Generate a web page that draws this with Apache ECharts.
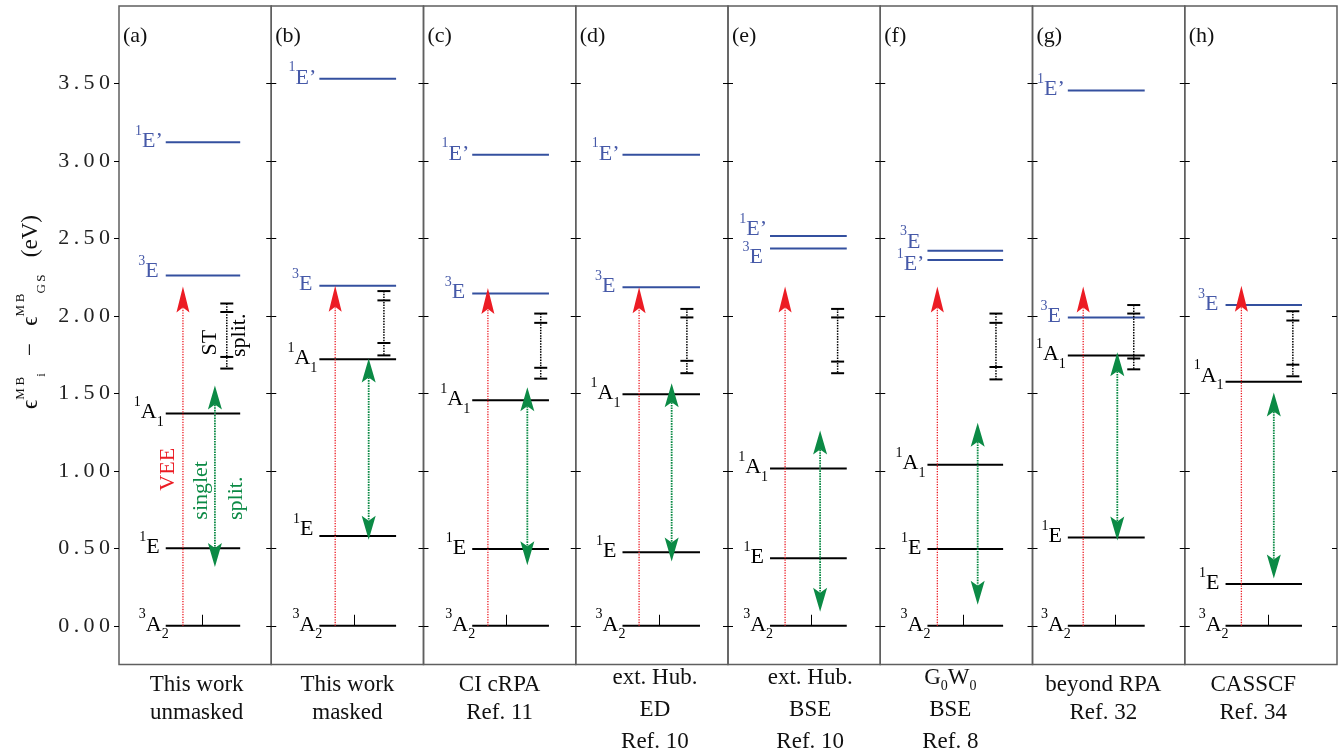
<!DOCTYPE html>
<html>
<head>
<meta charset="utf-8">
<script src="https://cdn.jsdelivr.net/npm/echarts@6/dist/echarts.min.js"></script>
<style>
html,body{margin:0;padding:0;background:#fff;}
#chart{width:1344px;height:748px;}
</style>
</head>
<body>
<div id="chart"></div>
<script>
// ---------------- data ----------------
const panelTags = ['(a)', '(b)', '(c)', '(d)', '(e)', '(f)', '(g)', '(h)'];
const methods = [
  ['This work', 'unmasked'],
  ['This work', 'masked'],
  ['CI cRPA', 'Ref. 11'],
  ['ext. Hub.', 'ED', 'Ref. 10'],
  ['ext. Hub.', 'BSE', 'Ref. 10'],
  ['G₀W₀', 'BSE', 'Ref. 8'],
  ['beyond RPA', 'Ref. 32'],
  ['CASSCF', 'Ref. 34']
];
const yTickValues = [0, 0.5, 1, 1.5, 2, 2.5, 3, 3.5];

// energy levels (eV) per panel a..h
const e3A2 = [0, 0, 0, 0, 0, 0, 0, 0];
const e1E  = [0.50, 0.58, 0.495, 0.475, 0.435, 0.495, 0.57, 0.27];
const e1A1 = [1.37, 1.72, 1.455, 1.495, 1.015, 1.04, 1.745, 1.575];
const e3E  = [2.26, 2.195, 2.145, 2.185, 2.435, 2.42, 1.99, 2.07];
const e1Ep = [3.12, 3.53, 3.04, 3.04, 2.515, 2.36, 3.455, null];

// vertical excitation energy arrow (tip)
const veeTop = [2.19, 2.195, 2.18, 2.185, 2.19, 2.19, 2.19, 2.195];
// singlet splitting double arrow (tips)
const singletTop    = [1.55, 1.725, 1.54, 1.565, 1.26, 1.31, 1.765, 1.505];
const singletBottom = [0.38, 0.555, 0.39, 0.415, 0.09, 0.135, 0.55, 0.305];
// singlet-triplet splitting error bars (cap positions)
const stTripletHi = [2.08, 2.16, 2.015, 2.045, 2.045, 2.015, 2.07, 2.03];
const stTripletLo = [2.025, 2.10, 1.955, 1.99, 1.99, 1.955, 2.015, 1.97];
const stSingletHi = [1.735, 1.825, 1.665, 1.71, 1.705, 1.67, 1.725, 1.685];
const stSingletLo = [1.66, 1.745, 1.595, 1.63, 1.63, 1.59, 1.655, 1.61];

// ---------------- layout / style ----------------
const FONT = '"Liberation Serif","Times New Roman",serif';
const P_LEFT = 119, P_W = 152.25, P_TOP = 6, P_H = 658.5;
const Y_MIN = -0.25, Y_MAX = 4.0;
const BLACK = '#000', BLUE_LINE = '#34509f', BLUE_TEXT = '#4659a8';
const RED = '#ec1c24', GREEN = '#0b8a45', BORDER = '#5f5f5f';

const levelSpan = [[0.307,0.796],[0.316,0.82],[0.32,0.824],[0.307,0.816],[0.276,0.78],[0.31,0.807],[0.232,0.737],[0.268,0.77]];
const veeX     = [0.42, 0.42, 0.423, 0.416, 0.375, 0.375, 0.333, 0.372];
const singletX = [0.63, 0.64, 0.682, 0.63, 0.605, 0.64, 0.557, 0.585];
const stX      = [0.708, 0.74, 0.77, 0.73, 0.72, 0.76, 0.665, 0.71];
const labelX   = [0.51, 0.5, 0.5, 0.52, 0.54, 0.46, 0.465, 0.45];

const levelNames = [['3','A','2'], ['1','E',''], ['1','A','1'], ['3','E',''], ['1','E’','']];
const levelSets = [e3A2, e1E, e1A1, e3E, e1Ep];
const levelBlue = [false, false, false, true, true];
const dxByLevel = [3, -6, -2, -7, -3];
const dyOverride = {'0-3': -4, '1-1': -7, '4-3': 9, '4-4': -7, '5-3': -9, '5-4': 4, '7-2': -6};

// panel (a) annotations: [text, color, x, y]
const notes = [
  ['VEE', RED, 0.322, 1.01],
  ['singlet', GREEN, 0.542, 0.874],
  ['split.', GREEN, 0.772, 0.823],
  ['ST', BLACK, 0.596, 1.827],
  ['split.', BLACK, 0.788, 1.875]
];

function levelRich(col) {
  return {
    m:   {fontFamily: FONT, fontSize: 22, lineHeight: 34, fill: col},
    sup: {fontFamily: FONT, fontSize: 14, lineHeight: 22, verticalAlign: 'top', fill: col},
    sub: {fontFamily: FONT, fontSize: 14, lineHeight: 6, verticalAlign: 'bottom', fill: col}
  };
}
function levelText(k) {
  const n = levelNames[k];
  let s = '{sup|' + n[0] + '}{m|' + n[1] + '}';
  if (n[2]) s += '{sub|' + n[2] + '}';
  return s;
}
function head(x, y, dir, len, hw, notch, color) {
  const s = dir;
  return {type: 'polygon', shape: {points: [[x, y], [x + hw, y + s * len], [x, y + s * (len - notch)], [x - hw, y + s * len]]},
          style: {fill: color}};
}

function makeRender(i, elems) {
  return function (params, api) {
    const e = elems[params.dataIndex];
    const P = (x, y) => api.coord([x, y]);
    const ch = [];
    if (e.kind === 'level') {
      const a = P(levelSpan[i][0], e.v), b = P(levelSpan[i][1], e.v);
      const col = e.blue ? BLUE_TEXT : BLACK;
      ch.push({type: 'line', shape: {x1: a[0], y1: a[1], x2: b[0], y2: b[1]},
               style: {stroke: e.blue ? BLUE_LINE : BLACK, lineWidth: 2}});
      const key = i + '-' + e.k;
      const dy = (key in dyOverride) ? dyOverride[key] : -1;
      ch.push({type: 'text', x: a[0] + dxByLevel[e.k], y: a[1] + dy,
               style: {text: levelText(e.k), rich: levelRich(col), align: 'right', verticalAlign: 'middle',
                       fill: col, fontFamily: FONT, fontSize: 22}});
    } else if (e.kind === 'vee') {
      const base = P(veeX[i], 0), tip = P(veeX[i], e.v);
      const len = 26, notch = 5;
      ch.push({type: 'line', shape: {x1: base[0], y1: base[1], x2: tip[0], y2: tip[1] + len - notch},
               style: {stroke: RED, lineWidth: 1.3, lineDash: [1.3, 1.3]}});
      ch.push(head(tip[0], tip[1], 1, len, 6.5, notch, RED));
    } else if (e.kind === 'dbl') {
      const t = P(singletX[i], e.top), b = P(singletX[i], e.bottom);
      const len = 24, notch = 5;
      ch.push({type: 'line', shape: {x1: t[0], y1: t[1] + len - notch, x2: b[0], y2: b[1] - len + notch},
               style: {stroke: GREEN, lineWidth: 1.8, lineDash: [1.6, 1]}});
      ch.push(head(t[0], t[1], 1, len, 7, notch, GREEN));
      ch.push(head(b[0], b[1], -1, len, 7, notch, GREEN));
    } else if (e.kind === 'st') {
      const pts = e.caps.map(v => P(stX[i], v));
      ch.push({type: 'line', shape: {x1: pts[0][0], y1: pts[0][1], x2: pts[3][0], y2: pts[3][1]},
               style: {stroke: BLACK, lineWidth: 1.5, lineDash: [1.5, 1.2]}});
      pts.forEach(p => ch.push({type: 'line', shape: {x1: p[0] - 6.5, y1: p[1], x2: p[0] + 6.5, y2: p[1]},
                                style: {stroke: BLACK, lineWidth: 2}}));
    } else if (e.kind === 'note') {
      const p = P(e.x, e.v);
      ch.push({type: 'text', x: p[0], y: p[1], rotation: Math.PI / 2,
               style: {text: e.text, fill: e.color, fontFamily: FONT, fontSize: 22, align: 'center', verticalAlign: 'middle'}});
    }
    return {type: 'group', children: ch};
  };
}

function methodLabel(i) {
  const st = methods[i].length === 3 ? 'c3' : 'c2';
  return methods[i].map(line => line.split(/(₀)/).filter(Boolean)
    .map(t => t === '₀' ? '{s' + st + '|0}' : '{' + st + '|' + t + '}').join('')).join('\n');
}
const catRich = {
  c2:  {fontFamily: FONT, fontSize: 23, lineHeight: 28, color: '#111'},
  c3:  {fontFamily: FONT, fontSize: 23, lineHeight: 32, color: '#111'},
  sc2: {fontFamily: FONT, fontSize: 14, lineHeight: 13, verticalAlign: 'bottom', color: '#111'},
  sc3: {fontFamily: FONT, fontSize: 14, lineHeight: 15, verticalAlign: 'bottom', color: '#111'}
};

const grids = [], xAxes = [], yAxes = [], series = [];
for (let i = 0; i < 8; i++) {
  grids.push({left: P_LEFT + i * P_W, top: P_TOP, width: P_W, height: P_H, show: true,
              borderColor: BORDER, borderWidth: 1.5, backgroundColor: 'transparent',
              containLabel: false, outerBoundsMode: 'none'});
  const three = methods[i].length === 3;
  xAxes.push({type: 'value', gridIndex: i, min: 0, max: 1,
    axisLine: {show: false}, splitLine: {show: false},
    axisTick: {show: true, inside: true, length: 11, customValues: [0.546], lineStyle: {color: BLACK, width: 1}},
    axisLabel: {show: true, customValues: [labelX[i]], margin: three ? -3 : 6,
                formatter: () => methodLabel(i), rich: catRich, fontFamily: FONT, fontSize: 23, color: '#111'}});
  yAxes.push({type: 'value', gridIndex: i, min: Y_MIN, max: Y_MAX, position: 'left',
    axisLine: {show: false}, splitLine: {show: false},
    axisTick: {show: true, inside: i > 0, length: 5, customValues: yTickValues, lineStyle: {color: BLACK, width: 1}},
    axisLabel: {show: i === 0, customValues: yTickValues, margin: 9, fontFamily: FONT, fontSize: 22, color: '#222',
                formatter: v => Number(v).toFixed(2).split('').join('\u2009')}});
  yAxes.push({type: 'value', gridIndex: i, min: Y_MIN, max: Y_MAX, position: 'right',
    axisLine: {show: false}, splitLine: {show: false},
    axisTick: {show: true, inside: true, length: 5, customValues: yTickValues, lineStyle: {color: BLACK, width: 1}},
    axisLabel: {show: false}});

  const elems = [];
  levelSets.forEach((arr, k) => {
    if (arr[i] !== null && arr[i] !== undefined) elems.push({kind: 'level', v: arr[i], k: k, blue: levelBlue[k]});
  });
  elems.push({kind: 'vee', v: veeTop[i]});
  elems.push({kind: 'dbl', v: singletTop[i], top: singletTop[i], bottom: singletBottom[i]});
  elems.push({kind: 'st', v: stTripletHi[i], caps: [stTripletHi[i], stTripletLo[i], stSingletHi[i], stSingletLo[i]]});
  if (i === 0) notes.forEach(n => elems.push({kind: 'note', text: n[0], color: n[1], x: n[2], v: n[3]}));

  series.push({type: 'custom', coordinateSystem: 'cartesian2d', xAxisIndex: i, yAxisIndex: 2 * i,
    clip: false, silent: true, animation: false,
    encode: {x: 0, y: 1},
    data: elems.map(e => [0.5, e.v]),
    renderItem: makeRender(i, elems)});
}

const graphic = panelTags.map((t, i) => ({type: 'text', left: P_LEFT + i * P_W + 4, top: 25,
  style: {text: t, fontFamily: FONT, fontSize: 22, fill: '#111'}}));
graphic.push({type: 'text', x: 31, y: 312, rotation: Math.PI / 2,
  style: {
    text: '{e|ϵ}{s|M\u2009B}{b|i}{m|   −   }{e|ϵ}{s|M\u2009B}{b|G\u2009S}{p|   (eV)}',
    align: 'center', verticalAlign: 'middle', fill: '#111', fontFamily: FONT, fontSize: 22,
    rich: {
      e: {fontFamily: FONT, fontSize: 23, lineHeight: 34, fill: '#111'},
      m: {fontFamily: FONT, fontSize: 23, lineHeight: 34, fill: '#111'},
      p: {fontFamily: FONT, fontSize: 23, lineHeight: 34, fill: '#111'},
      s: {fontFamily: FONT, fontSize: 13, lineHeight: 20, verticalAlign: 'top', fill: '#111'},
      b: {fontFamily: FONT, fontSize: 13, lineHeight: 10, verticalAlign: 'bottom', fill: '#111'}
    }
  }});

const chart = echarts.init(document.getElementById('chart'), null, {renderer: 'canvas'});
chart.setOption({animation: false, backgroundColor: '#fff', grid: grids, xAxis: xAxes, yAxis: yAxes, series: series, graphic: graphic});
</script>
</body>
</html>
